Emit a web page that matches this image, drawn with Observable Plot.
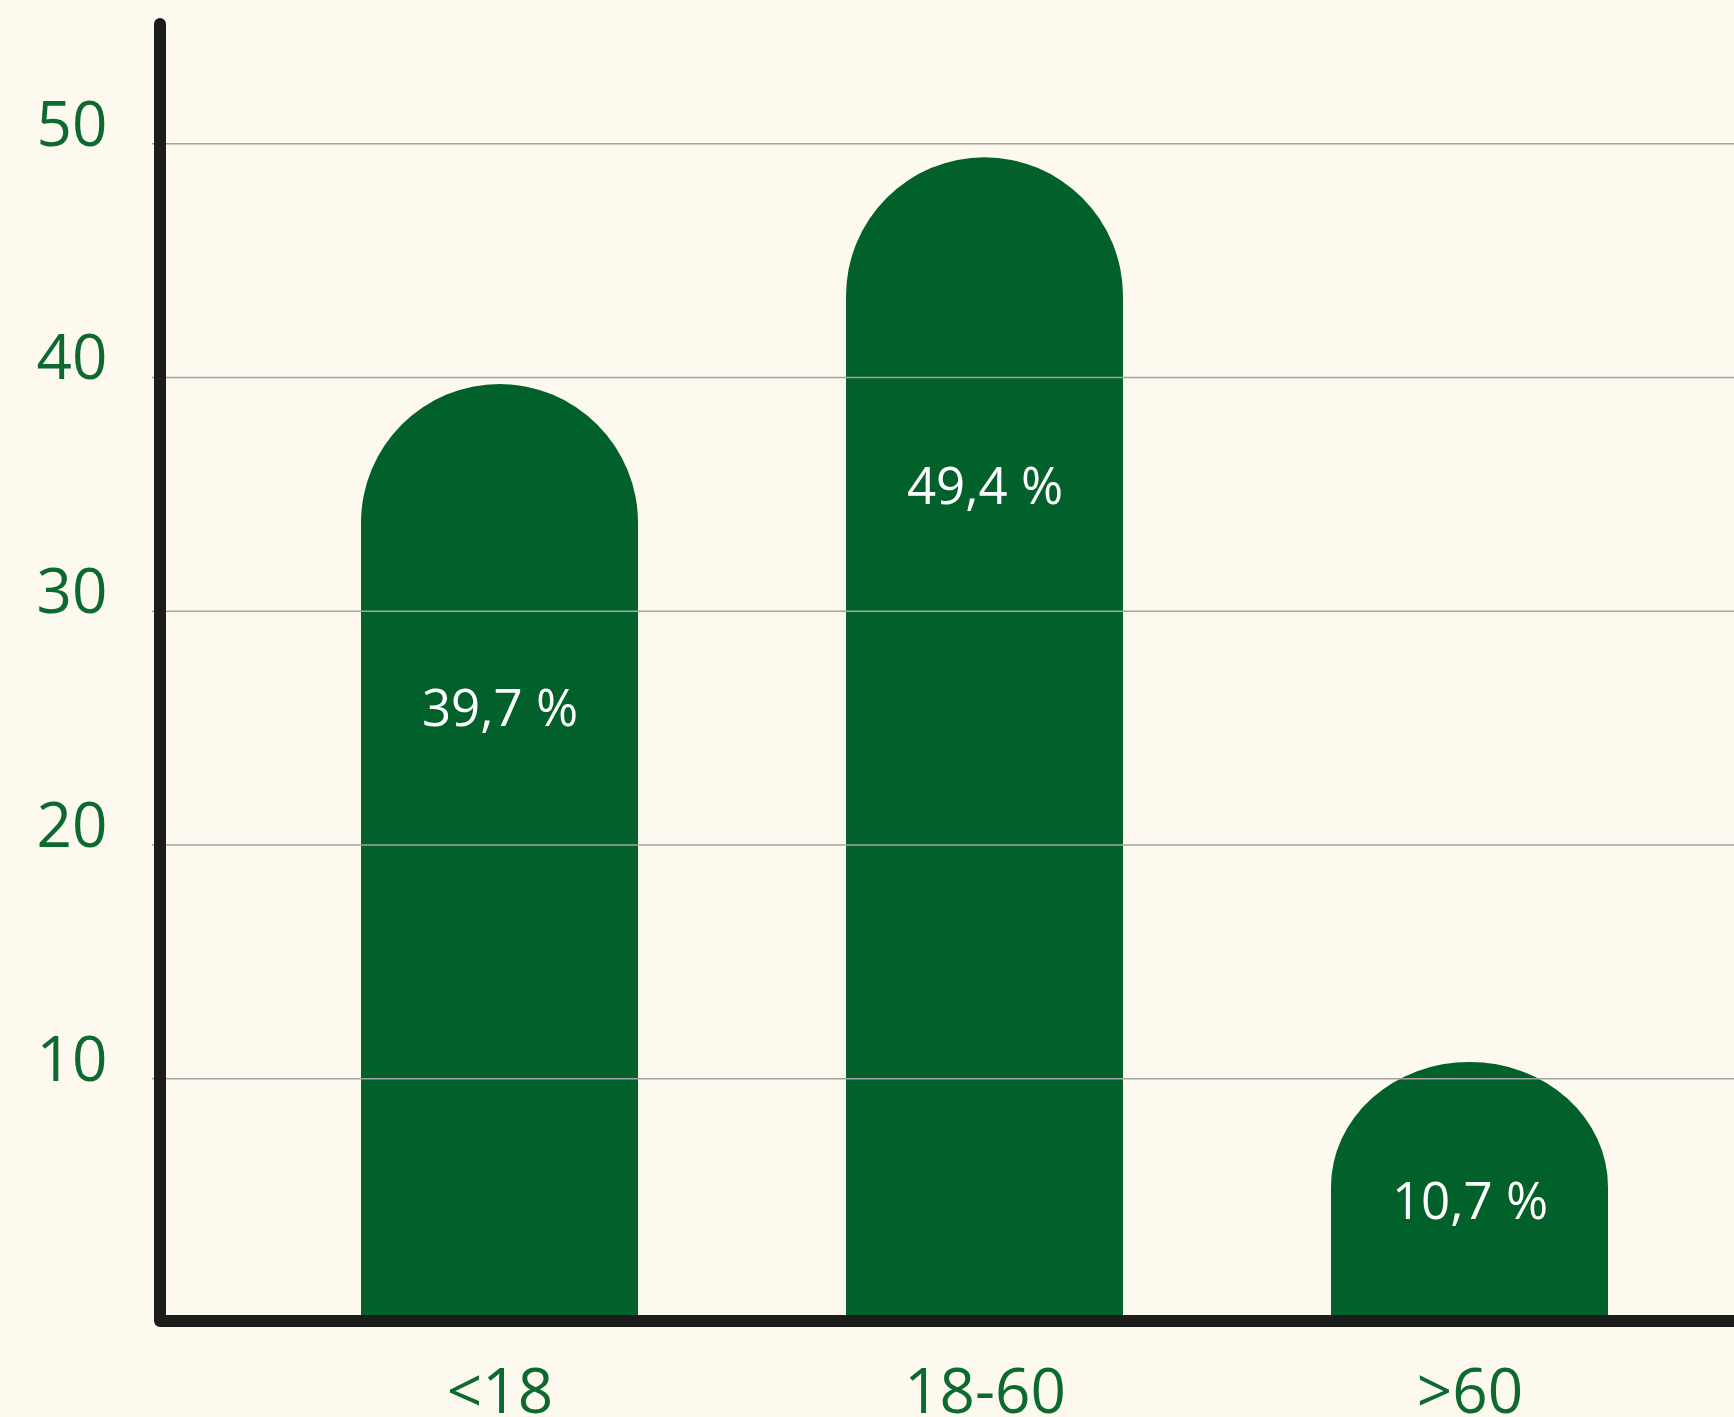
<!DOCTYPE html>
<html><head><meta charset="utf-8">
<script src="https://cdn.jsdelivr.net/npm/d3@7"></script>
<script src="https://cdn.jsdelivr.net/npm/@observablehq/plot@0.6"></script>
<style>
html,body{margin:0;padding:0;background:#fdf9ef;}
#chart{width:1734px;height:1417px;overflow:hidden}
</style></head><body><div id="chart"></div>
<script>
const categories = ["<18", "18-60", ">60"];
const values = [39.7, 49.4, 10.7];
const valueLabels = ["39,7 %", "49,4 %", "10,7 %"];
const labelAt = [25.8, 35.3, 4.7];
const yTicks = [10, 20, 30, 40, 50];

const data = categories.map((c, i) => ({cat: c, value: values[i], label: valueLabels[i], ly: labelAt[i]}));

const GREEN = "#02612a", TEXT = "#0c6a30", INK = "#1d1d1b";
const plot = Plot.plot({
  width: 1734, height: 1417,
  marginTop: 24, marginBottom: 105, marginLeft: 152, marginRight: 0,
  style: {background: "#fdf9ef", color: TEXT, fontFamily: "'Open Sans', sans-serif"},
  x: {domain: categories, range: [160, 1734], paddingInner: 0.428, paddingOuter: 0.335, align: 0.616, label: null},
  y: {domain: [0, 55.1], label: null},
  marks: [
    Plot.barY(data, {x: "cat", y: "value", fill: GREEN, rx: 139}),
    Plot.barY(data, {x: "cat", y1: 0, y2: d => d.value / 2, fill: GREEN, insetBottom: -5}),
    Plot.ruleY(yTicks, {stroke: "#a3a3a3", strokeWidth: 1.6}),
    Plot.text(data, {x: "cat", y: "ly", text: "label", fill: "white", fontSize: 51}),
    Plot.axisY(yTicks, {tickSize: 0, tickPadding: 45, fontSize: 62, dy: -18, label: null, tickFormat: d => String(d)}),
    Plot.axisX({tickSize: 0, tickPadding: 56, fontSize: 62, label: null})
  ]
});
document.getElementById("chart").appendChild(plot);

const yScale = plot.scale("y"), xScale = plot.scale("x");
const yTop = yScale.apply(55.1), yBase = yScale.apply(0) + 9, xLeft = xScale.range[0];
d3.select(plot).append("path")
  .attr("d", `M${xLeft},${yTop}L${xLeft},${yBase}L${1734 + 20},${yBase}`)
  .attr("fill", "none").attr("stroke", INK).attr("stroke-width", 12)
  .attr("stroke-linecap", "round").attr("stroke-linejoin", "round");
</script>
</body></html>
